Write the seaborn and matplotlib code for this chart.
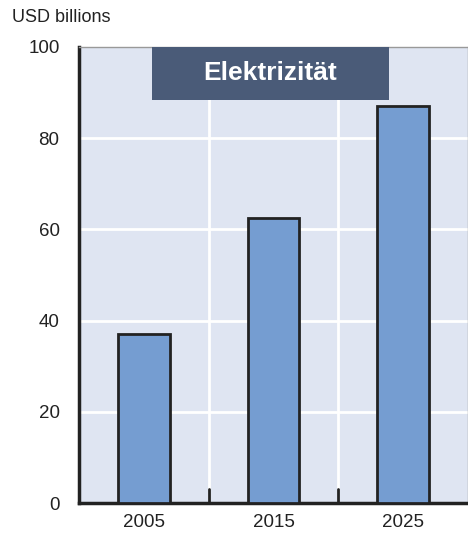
import pandas as pd
import matplotlib.pyplot as plt
import seaborn as sns
from matplotlib.patches import Rectangle

years = ['2005', '2015', '2025']
values = [37, 62.5, 87]
yticks = [0, 20, 40, 60, 80, 100]
boundaries = [0.5, 1.5]

sns.set_style("white")
plt.rcParams['font.family'] = ['Liberation Sans Narrow', 'Liberation Sans', 'DejaVu Sans']

df = pd.DataFrame({'year': years, 'value': values})

fig = plt.figure(figsize=(4.68, 5.4), dpi=100)
ax = fig.add_axes([79 / 468, 37 / 540, 389 / 468, 456 / 540])
ax.set_facecolor('#dfe5f2')

sns.barplot(data=df, x='year', y='value', color='#759dd1', width=0.4,
            edgecolor='#222222', linewidth=2, saturation=1, ax=ax, zorder=3)

ax.set_xlim(-0.5, 2.5)
ax.set_ylim(0, 100)
ax.set_yticks(yticks)
ax.set_yticklabels([str(v) for v in yticks], fontsize=13.5, color='#222222')
ax.tick_params(axis='y', length=0, pad=14)

# white grid at y ticks and category boundaries
for v in yticks[1:-1]:
    ax.axhline(v, color='white', linewidth=2, zorder=1)
for b in boundaries:
    ax.axvline(b, color='white', linewidth=2, zorder=1)
    # small inward tick at the category boundary
    ax.axvline(b, ymin=0, ymax=0.03, color='#222222', linewidth=2, zorder=2)

ax.set_xticks([0, 1, 2])
ax.set_xticklabels(years, fontsize=13.5, color='#222222')
ax.tick_params(axis='x', length=0, pad=8)
ax.set_xlabel('')
ax.set_ylabel('')

for side in ['left', 'bottom']:
    ax.spines[side].set_color('#222222')
    ax.spines[side].set_linewidth(2.5)
for side in ['top', 'right']:
    ax.spines[side].set_color('#999999')
    ax.spines[side].set_linewidth(1)

# title box
ax.add_patch(Rectangle((0.187, 0.884), 0.61, 0.116, transform=ax.transAxes,
                       facecolor='#4a5b78', edgecolor='none', zorder=5))
ax.text(0.492, 0.942, 'Elektrizität', transform=ax.transAxes, ha='center', va='center',
        color='white', fontsize=19, fontweight='bold', zorder=6)

fig.text(12 / 468, 1 - 18 / 540, 'USD billions', ha='left', va='center', fontsize=13, color='#222222')

plt.savefig('out.png', dpi=100)
plt.close()
